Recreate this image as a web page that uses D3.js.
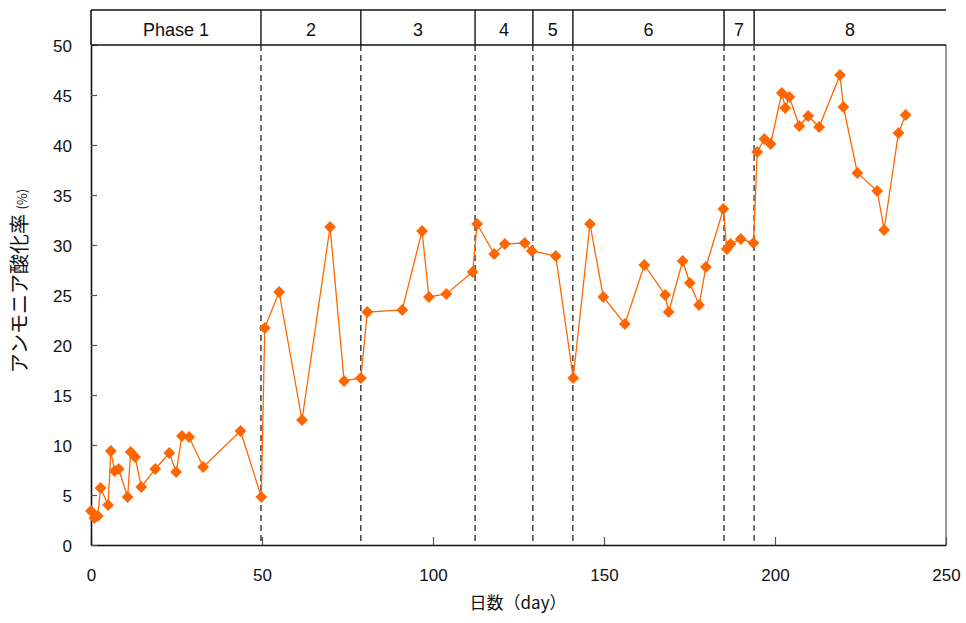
<!DOCTYPE html>
<html>
<head>
<meta charset="utf-8">
<script src="https://cdn.jsdelivr.net/npm/d3@7"></script>
<style>
  body { margin: 0; background: #fff; }
  text { font-family: "Liberation Sans", Arial, sans-serif; fill: #111; }
  .jp { font-family: "Noto Sans CJK JP", sans-serif; }
</style>
</head>
<body>
<div id="chart"></div>
<script>
// days since start vs ammonia oxidation rate (%)
var days = [0, 1, 2, 2.8, 5, 5.8, 6.9, 8.1, 10.7, 11.6, 12.9, 14.7, 18.8, 22.9, 24.9, 26.6, 28.7, 32.8, 43.7, 49.8,
    50.8, 55, 61.7, 69.9, 74, 78.9,
    80.8, 91, 96.8, 98.8, 103.9, 111.6,
    112.9, 117.9, 121, 126.8, 128.9,
    135.9,
    141, 145.9, 149.8, 156.1, 161.8, 167.9, 168.9, 173, 175.1, 177.8, 179.8, 184.9,
    185.9, 187, 190,
    193.7, 194.8, 196.9, 198.7, 202, 203, 204.2, 207.1, 209.7, 212.9, 219, 220, 224.1, 229.9, 231.9, 236.1, 238.2];
var rates = [3.4, 2.7, 2.9, 5.7, 4.0, 9.4, 7.4, 7.6, 4.8, 9.3, 8.8, 5.8, 7.6, 9.2, 7.3, 10.9, 10.8, 7.8, 11.4, 4.8,
    21.7, 25.3, 12.5, 31.8, 16.4, 16.7,
    23.3, 23.5, 31.4, 24.8, 25.1, 27.3,
    32.1, 29.1, 30.1, 30.2, 29.4,
    28.9,
    16.7, 32.1, 24.8, 22.1, 28.0, 25.0, 23.3, 28.4, 26.2, 24.0, 27.8, 33.6,
    29.6, 30.1, 30.6,
    30.2, 39.3, 40.6, 40.1, 45.2, 43.7, 44.8, 41.9, 42.9, 41.8, 47.0, 43.8, 37.2, 35.4, 31.5, 41.2, 43.0];

var phaseBounds = [49.7, 78.9, 112.3, 129.2, 140.9, 185.1, 193.9];
var phaseLabels = ["Phase 1", "2", "3", "4", "5", "6", "7", "8"];
var xTicks = [0, 50, 100, 150, 200, 250];
var yTicks = [0, 5, 10, 15, 20, 25, 30, 35, 40, 45, 50];

function init() {
    var w = 966, h = 623;
    var left = 91, right = 946, top = 45, bottom = 545, headTop = 10;
    var orange = "#ff6600";

    var svg = d3.select("#chart").append("svg").attr("width", w).attr("height", h);

    var xScale = d3.scaleLinear().domain([0, 250]).range([left, right]);
    var yScale = d3.scaleLinear().domain([0, 50]).range([bottom, top]);

    // frame right side
    svg.append("line").attr("x1", right).attr("x2", right).attr("y1", top).attr("y2", bottom)
        .attr("stroke", "#555").attr("stroke-width", 1.2);

    // axes, ticks pointing inward
    var xAxis = d3.axisBottom(xScale).tickValues(xTicks).tickSizeInner(-8).tickSizeOuter(0).tickPadding(24);
    var yAxis = d3.axisLeft(yScale).tickValues(yTicks).tickSizeInner(-6).tickSizeOuter(0).tickPadding(19);

    var gx = svg.append("g").attr("transform", "translate(0," + bottom + ")").call(xAxis);
    var gy = svg.append("g").attr("transform", "translate(" + left + ",0)").call(yAxis);
    [gx, gy].forEach(function (g) {
        g.select(".domain").attr("stroke", "#111").attr("stroke-width", 1.6);
        g.selectAll(".tick line").attr("stroke", "#555").attr("stroke-width", 1.2);
        g.selectAll(".tick text").style("font-size", "17px").attr("fill", "#111")
            .style("font-family", "'Liberation Sans', Arial, sans-serif");
    });
    gy.selectAll(".tick text").attr("dy", "0.36em");

    // phase header box
    var head = svg.append("g");
    head.append("line").attr("x1", left).attr("x2", right).attr("y1", headTop).attr("y2", headTop)
        .attr("stroke", "#111").attr("stroke-width", 1.6);
    head.append("line").attr("x1", left).attr("x2", right).attr("y1", top).attr("y2", top)
        .attr("stroke", "#111").attr("stroke-width", 1.6);
    head.append("line").attr("x1", left).attr("x2", left).attr("y1", headTop).attr("y2", top)
        .attr("stroke", "#111").attr("stroke-width", 1.6);
    head.selectAll("line.div").data(phaseBounds).enter().append("line")
        .attr("class", "div")
        .attr("x1", d => xScale(d)).attr("x2", d => xScale(d))
        .attr("y1", headTop).attr("y2", top)
        .attr("stroke", "#111").attr("stroke-width", 1.4);

    var edges = [0].concat(phaseBounds, [250]);
    head.selectAll("text").data(phaseLabels).enter().append("text")
        .attr("x", (d, i) => (xScale(edges[i]) + xScale(edges[i + 1])) / 2)
        .attr("y", (headTop + top) / 2 + 2)
        .attr("dy", "0.36em")
        .attr("text-anchor", "middle")
        .style("font-size", "18px")
        .text(d => d);

    // dashed phase boundaries
    svg.append("g").selectAll("line").data(phaseBounds).enter().append("line")
        .attr("x1", d => xScale(d)).attr("x2", d => xScale(d))
        .attr("y1", top).attr("y2", bottom)
        .attr("stroke", (d, i) => i == phaseBounds.length - 1 ? "#666" : "#222")
        .attr("stroke-width", (d, i) => i == phaseBounds.length - 1 ? 1.8 : 1.3)
        .attr("stroke-dasharray", "6,4");

    // series
    var dataset = days.map((d, i) => ({ day: d, rate: rates[i] }));
    var line = d3.line().x(d => xScale(d.day)).y(d => yScale(d.rate));
    svg.append("path").attr("d", line(dataset))
        .attr("fill", "none").attr("stroke", orange).attr("stroke-width", 1.3);

    var diamond = d3.symbol().type(d3.symbolSquare).size(70);
    svg.append("g").selectAll("path").data(dataset).enter().append("path")
        .attr("d", diamond)
        .attr("transform", d => "translate(" + xScale(d.day) + "," + yScale(d.rate) + ") rotate(45)")
        .attr("fill", orange);

    // axis titles
    svg.append("text").attr("class", "jp")
        .attr("x", 518).attr("y", 609)
        .attr("text-anchor", "middle")
        .style("font-size", "17px")
        .text("日数（day）");

    var yt = svg.append("text").attr("class", "jp")
        .attr("transform", "translate(27,281) rotate(-90)")
        .attr("text-anchor", "middle")
        .style("font-size", "20px");
    yt.append("tspan").text("アンモニア酸化率 ");
    yt.append("tspan").style("font-size", "13px").text("(%)");
}
window.onload = init;
</script>
</body>
</html>
